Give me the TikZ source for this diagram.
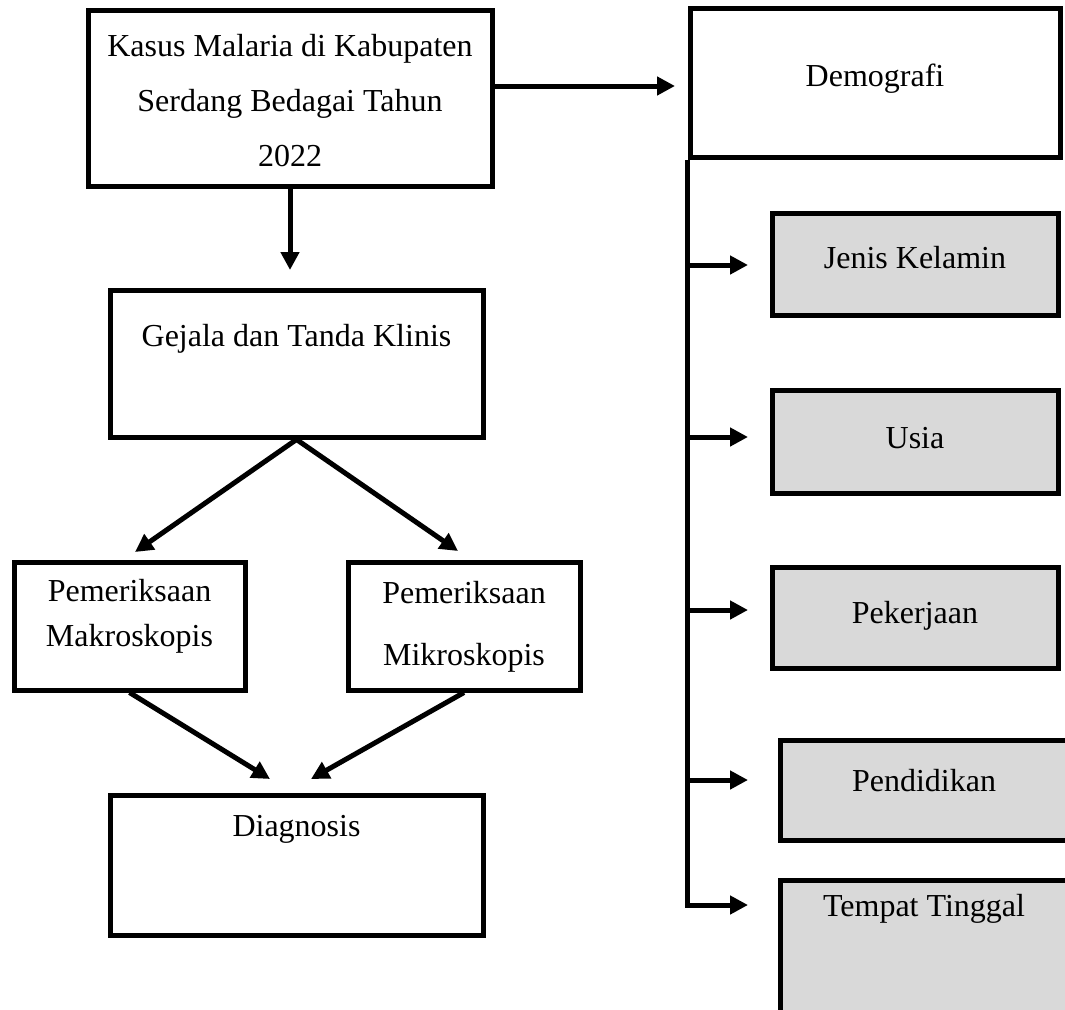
\documentclass[tikz,border=0pt]{standalone}
\usepackage{fontspec}
\setmainfont{Liberation Serif}
\usetikzlibrary{arrows.meta,calc}
\definecolor{boxgray}{HTML}{D9D9D9}
\begin{document}
\begin{tikzpicture}[x=1pt,y=-1pt,
  box/.style={draw,line width=5pt,inner sep=0pt,fill=white},
  gbox/.style={box,fill=boxgray},
  txt/.style={font=\fontsize{32}{38}\selectfont,anchor=base,inner sep=0pt},
  conn/.style={line width=5pt},
  arr/.style={conn,-{Triangle[length=18pt,width=18pt]}}]
\useasboundingbox (0,0) rectangle (1065,1009);
% boxes
\node[box,minimum width=404pt,minimum height=176pt] (b1) at (290,98) {};
\node[box,minimum width=370pt,minimum height=149pt] (demo) at (875,82.5) {};
\node[box,minimum width=373pt,minimum height=147pt] (gej) at (296.5,363.5) {};
\node[box,minimum width=231pt,minimum height=128pt] (makro) at (129.5,626) {};
\node[box,minimum width=232pt,minimum height=128pt] (mikro) at (464,626) {};
\node[box,minimum width=373pt,minimum height=140pt] (diag) at (296.5,865) {};
\node[gbox,minimum width=286pt,minimum height=102pt] (jk) at (915,264) {};
\node[gbox,minimum width=286pt,minimum height=103pt] (usia) at (915,441.5) {};
\node[gbox,minimum width=286pt,minimum height=101pt] (kerja) at (915,617.5) {};
\node[gbox,minimum width=288pt,minimum height=100pt] (didik) at (924,790) {};
\node[gbox,minimum width=288pt,minimum height=150pt] (tempat) at (924,955) {};
% texts
\node[txt] (t1a) at (290,56) {Kasus Malaria di Kabupaten};
\node[txt] (t1b) at (290,111) {Serdang Bedagai Tahun};
\node[txt] (t1c) at (290,166) {2022};
\node[txt] (tdemo) at (875,86) {Demografi};
\node[txt] (tgej) at (296.5,346) {Gejala dan Tanda Klinis};
\node[txt] (tma) at (129.5,601) {Pemeriksaan};
\node[txt] (tmb) at (129.5,646) {Makroskopis};
\node[txt] (tia) at (464,603) {Pemeriksaan};
\node[txt] (tib) at (464,665) {Mikroskopis};
\node[txt] (tdiag) at (296.5,836) {Diagnosis};
\node[txt] (tjk) at (915,268) {Jenis Kelamin};
\node[txt] (tusia) at (915,448) {Usia};
\node[txt] (tkerja) at (915,623) {Pekerjaan};
\node[txt] (tdidik) at (924,791) {Pendidikan};
\node[txt] (ttempat) at (924,916) {Tempat Tinggal};
% connector end points
\coordinate (ra) at (675,86);
\coordinate (da) at (290,270);
\coordinate (gl) at (135,552);
\coordinate (gr) at (458,551);
\coordinate (dl) at (270,779);
\coordinate (dr) at (311,779);
\coordinate (bjk) at (748,265);
\coordinate (busia) at (748,437);
\coordinate (bkerja) at (748,610);
\coordinate (bdidik) at (748,780);
\coordinate (btempat) at (748,905);
% connectors
\draw[arr] (b1.east|-ra) -- (ra);
\draw[arr] (b1.south) -- (da);
\draw[arr] (gej.south) -- (gl);
\draw[arr] (gej.south) -- (gr);
\draw[arr] (makro.south) -- (dl);
\draw[arr] (mikro.south) -- (dr);
\draw[arr] (demo.south west) -- (demo.south west|-btempat) -- (btempat);
\draw[arr] (demo.south west|-bjk) -- (bjk);
\draw[arr] (demo.south west|-busia) -- (busia);
\draw[arr] (demo.south west|-bkerja) -- (bkerja);
\draw[arr] (demo.south west|-bdidik) -- (bdidik);
\end{tikzpicture}
\end{document}
